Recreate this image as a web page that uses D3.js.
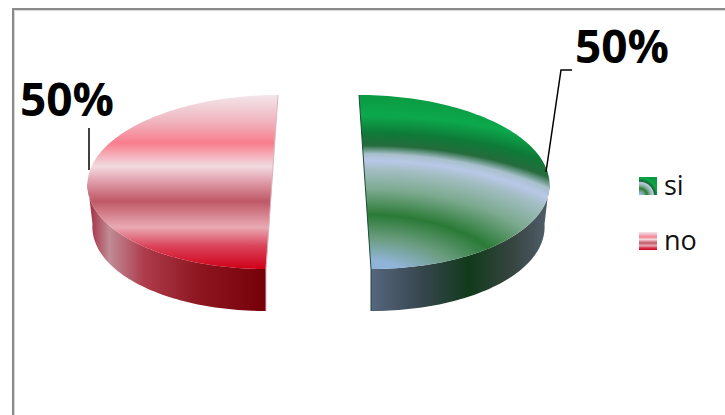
<!DOCTYPE html>
<html><head><meta charset="utf-8">
<script src="https://cdn.jsdelivr.net/npm/d3@7/dist/d3.min.js"></script>
<style>html,body{margin:0;padding:0;background:#fff;overflow:hidden}svg{display:block}text{font-family:"Open Sans","Noto Sans",sans-serif}</style>
</head><body><svg id="c" width="725" height="415"></svg>
<script>
const categories = ["si", "no"];
const seriesValues = [50, 50];
const percentLabels = ["50%", "50%"];

const svg = d3.select("#c");
const defs = svg.append("defs");

// scales of the tilted disc
const cx = 318.5, gap = 46.5, lean = 6, depth = 42, depthShrink = 0.973;
const xU = d3.scaleLinear().domain([-1, 1]).range([-184.5, 184.5]);
const yV = d3.scaleLinear().domain([-1, 1]).range([95, 269]);

function project(a, sign, lower) {
  const u = Math.sin(a), v = -Math.cos(a);
  return [
    cx + sign * (gap + lean * v) + xU(u) * (lower ? depthShrink : 1),
    yV(v) + (lower ? depth : 0)
  ];
}

function addStops(g, stops) {
  g.selectAll("stop").data(stops).join("stop")
    .attr("offset", d => d[0]).attr("stop-color", d => d[1]);
}

// top-face paints
const greenRings = [[0,"#8fb2dc"],[0.13,"#90b4d8"],[0.25,"#6a9c7e"],[0.37,"#2a7a36"],[0.50,"#7ba98e"],[0.61,"#a4bec4"],[0.655,"#b8c8e8"],[0.69,"#a8c0cc"],[0.735,"#256b3c"],[0.80,"#0e7a38"],[0.89,"#0ca84c"],[1,"#0a9a42"]];
const redBands = [[0,"#f2e6ea"],[0.16,"#f0b2bd"],[0.275,"#f97d8d"],[0.41,"#f2dbe0"],[0.49,"#e2a2ae"],[0.61,"#bf5866"],[0.76,"#e9aab3"],[0.87,"#da4259"],[1,"#cf0018"]];

const gFace0 = defs.append("radialGradient").attr("id","faceSi").attr("gradientUnits","userSpaceOnUse")
  .attr("cx",0).attr("cy",0).attr("r",1).attr("gradientTransform","translate(365 285) scale(393 190)");
addStops(gFace0, greenRings);
const gFace1 = defs.append("linearGradient").attr("id","faceNo").attr("gradientUnits","userSpaceOnUse")
  .attr("x1",0).attr("x2",0).attr("y1",95).attr("y2",269);
addStops(gFace1, redBands);

const gSide0 = defs.append("linearGradient").attr("id","sideSi").attr("gradientUnits","userSpaceOnUse")
  .attr("x1",371).attr("x2",546).attr("y1",0).attr("y2",0);
addStops(gSide0, [[0,"#56667e"],[0.3,"#36454c"],[0.56,"#113a1b"],[0.8,"#36443f"],[1,"#4e5c68"]]);
const gSide1 = defs.append("linearGradient").attr("id","sideNo").attr("gradientUnits","userSpaceOnUse")
  .attr("x1",92).attr("x2",266).attr("y1",0).attr("y2",0);
addStops(gSide1, [[0,"#a83a4c"],[0.1,"#c08c96"],[0.3,"#ae3c4c"],[0.6,"#8e1722"],[1,"#760008"]]);

// legend swatch paints
const gSw0 = defs.append("radialGradient").attr("id","swSi").attr("cx",0.05).attr("cy",1.05).attr("r",1.1);
addStops(gSw0, greenRings);
const gSw1 = defs.append("linearGradient").attr("id","swNo").attr("x1",0).attr("x2",0).attr("y1",0).attr("y2",1);
addStops(gSw1, redBands);

const faceFill = ["url(#faceSi)", "url(#faceNo)"];
const sideFill = ["url(#sideSi)", "url(#sideNo)"];
const edgeColor = ["#1c4a35", "#dcb4bc"];
const swatchFill = ["url(#swSi)", "url(#swNo)"];

// frame
svg.append("path").attr("d","M13 415V9H725").attr("fill","none").attr("stroke","#8a8a8a").attr("stroke-width",2);
svg.append("path").attr("d","M14.5 415V10.5H725").attr("fill","none").attr("stroke","#d8d8d8").attr("stroke-width",1);

const pie = d3.pie().sort(null);
const line = d3.line();
const slices = pie(seriesValues);

slices.forEach((s, i) => {
  const sign = Math.sin((s.startAngle + s.endAngle) / 2) > 0 ? 1 : -1;
  const angles = d3.range(0, 121).map(k => s.startAngle + (s.endAngle - s.startAngle) * k / 120);
  const lowerAngles = angles.filter(a => Math.cos(a) <= 1e-9);
  const topOutline = angles.map(a => project(a, sign, false));
  const sideOutline = lowerAngles.map(a => project(a, sign, false))
    .concat(lowerAngles.slice().reverse().map(a => project(a, sign, true)));

  svg.append("path").attr("d", line(sideOutline) + "Z").attr("fill", sideFill[i]);
  svg.append("path").attr("d", line(topOutline) + "Z").attr("fill", faceFill[i]);
  // cut edge
  const back = project(0, sign, false), front = project(Math.PI, sign, false), foot = project(Math.PI, sign, true);
  svg.append("path").attr("d", line([back, front, foot])).attr("fill","none")
    .attr("stroke", edgeColor[i]).attr("stroke-width",1);
});

// leader lines
const leaders = [[[546,172],[561,70],[572,70]], [[89,170],[89,128]]];
svg.selectAll("path.leader").data(leaders).join("path").attr("class","leader")
  .attr("d", d => line(d)).attr("fill","none").attr("stroke","#000").attr("stroke-width",1.5);

// data labels
const labelPos = [[622,63],[67,116]];
svg.selectAll("text.pct").data(percentLabels).join("text").attr("class","pct")
  .attr("x",(d,i)=>labelPos[i][0]).attr("y",(d,i)=>labelPos[i][1])
  .attr("text-anchor","middle").attr("font-size",46).attr("font-weight",700).attr("fill","#000")
  .text(d=>d);

// legend
const legendY = d3.scalePoint().domain(categories).range([186, 241]);
const legend = svg.selectAll("g.lg").data(categories).join("g").attr("class","lg")
  .attr("transform", d => `translate(639,${legendY(d)})`);
legend.append("rect").attr("x",0).attr("y",-9).attr("width",18).attr("height",18)
  .attr("fill",(d,i)=>swatchFill[i]);
legend.append("text").attr("x",25).attr("y",9).attr("font-size",27).attr("fill","#111").text(d=>d);
</script></body></html>
